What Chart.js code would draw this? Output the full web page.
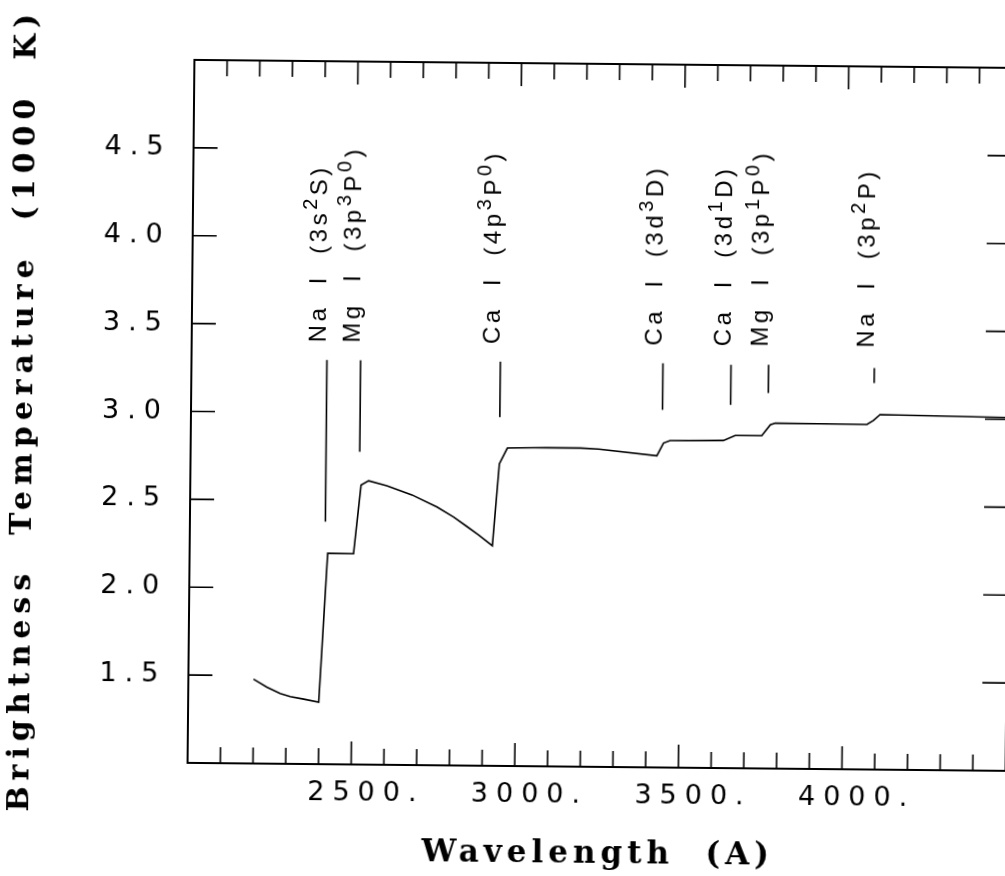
<!DOCTYPE html>
<html>
<head>
<meta charset="utf-8">
<title>Brightness Temperature vs Wavelength</title>
<script src="https://cdn.jsdelivr.net/npm/chart.js@4.4.1/dist/chart.umd.min.js"></script>
<style>
  html, body { margin: 0; padding: 0; background: #fff; overflow: hidden; }
  /* the original is a slightly skewed scan */
  #wrap { width: 1030px; height: 876px; transform: rotate(0.56deg); transform-origin: 0 0; }
</style>
</head>
<body>
<div id="wrap"><canvas id="chart" width="1030" height="876"></canvas></div>
<script>
// curve: wavelength (A) vs brightness temperature (1000 K)
const wavelength = [2199, 2240, 2281, 2312, 2353, 2399, 2422, 2501, 2522, 2545, 2601, 2678,
  2755, 2806, 2847, 2882, 2925, 2944, 2968, 3089, 3191, 3247, 3425, 3445, 3465, 3628, 3664,
  3745, 3771, 3786, 4066, 4086, 4106, 4500];
const temperature = [1.48, 1.435, 1.40, 1.383, 1.369, 1.353, 2.20, 2.199, 2.59, 2.615, 2.587, 2.537,
  2.469, 2.413, 2.36, 2.314, 2.252, 2.719, 2.809, 2.814, 2.813, 2.808, 2.773, 2.846, 2.861, 2.864, 2.893,
  2.894, 2.956, 2.966, 2.963, 2.986, 3.02, 3.01];

// absorption edges marked above the curve
const edgeWavelength = [2414, 2517, 2944, 3441, 3649, 3764, 4087];
const edgeTop = [3.30, 3.30, 3.30, 3.30, 3.295, 3.297, 3.284];
const edgeBottom = [2.38, 2.78, 2.985, 3.035, 3.067, 3.136, 3.199];
const edgeElement = ['Na', 'Mg', 'Ca', 'Ca', 'Ca', 'Mg', 'Na'];
const edgeTerm = ['3s^2S', '3p^3P^0', '4p^3P^0', '3d^3D', '3d^1D', '3p^1P^0', '3p^2P']; // ^ = next char is superscript

const xLabels = [2500, 3000, 3500, 4000];
const yLabels = [1.5, 2.0, 2.5, 3.0, 3.5, 4.0, 4.5];

const labelStartT = 3.40;

function splitTerm(term) {
  const parts = [];
  term.split('^').forEach((chunk, i) => {
    if (i === 0) { parts.push({ text: chunk, sup: false }); return; }
    parts.push({ text: chunk[0], sup: true });
    if (chunk.length > 1) parts.push({ text: chunk.slice(1), sup: false });
  });
  return parts;
}

const frameTicks = {
  id: 'frameTicks',
  beforeDraw(chart) {
    chart.ctx.letterSpacing = '8px';
  },
  afterDraw(chart) {
    const { ctx, chartArea: a, scales } = chart;
    ctx.save();
    ctx.letterSpacing = '0px';
    ctx.strokeStyle = '#000';
    ctx.lineWidth = 1.6;
    ctx.beginPath();
    scales.x.ticks.forEach(t => {
      if (t.value <= scales.x.min || t.value >= scales.x.max) return;
      const px = scales.x.getPixelForValue(t.value);
      const len = t.value % 500 === 0 ? 23 : 16;
      ctx.moveTo(px, a.bottom); ctx.lineTo(px, a.bottom - len);
      ctx.moveTo(px, a.top); ctx.lineTo(px, a.top + len);
    });
    scales.y.ticks.forEach(t => {
      if (t.value <= scales.y.min || t.value >= scales.y.max) return;
      const py = scales.y.getPixelForValue(t.value);
      ctx.moveTo(a.left, py); ctx.lineTo(a.left + 24, py);
      ctx.moveTo(a.right, py); ctx.lineTo(a.right - 24, py);
    });
    ctx.stroke();

    // axis titles
    ctx.fillStyle = '#000';
    ctx.textAlign = 'center';
    ctx.textBaseline = 'middle';
    ctx.font = 'bold 31px "DejaVu Serif"';
    ctx.letterSpacing = '5px';
    ctx.fillText('Wavelength  (A)', (a.left + a.right) / 2 + 2, a.bottom + 88);
    ctx.save();
    ctx.translate(28, (a.top + a.bottom) / 2);
    ctx.rotate(-Math.PI / 2);
    ctx.font = 'bold 30px "DejaVu Serif"';
    ctx.letterSpacing = '6px';
    ctx.fillText('Brightness  Temperature  (1000  K)', 0, 0);
    ctx.restore();
    ctx.restore();
  }
};

const edgeLabels = {
  id: 'edgeLabels',
  afterDatasetsDraw(chart) {
    const { ctx, scales: { x, y } } = chart;
    ctx.save();
    ctx.strokeStyle = '#000';
    ctx.fillStyle = '#000';
    ctx.lineWidth = 1.6;
    ctx.letterSpacing = '3.5px';
    ctx.textBaseline = 'alphabetic';
    ctx.textAlign = 'left';
    edgeWavelength.forEach((w, i) => {
      const px = x.getPixelForValue(w);
      ctx.beginPath();
      ctx.moveTo(px, y.getPixelForValue(edgeTop[i]));
      ctx.lineTo(px, y.getPixelForValue(edgeBottom[i]));
      ctx.stroke();

      const parts = [{ text: edgeElement[i] + '  I  (', sup: false }]
        .concat(splitTerm(edgeTerm[i]), [{ text: ')', sup: false }]);
      ctx.save();
      ctx.translate(px - 1, y.getPixelForValue(labelStartT));
      ctx.rotate(-Math.PI / 2);
      let cx = 0;
      parts.forEach(p => {
        ctx.font = (p.sup ? 20 : 24) + 'px "Liberation Sans"';
        ctx.fillText(p.text, cx, p.sup ? -10 : 0);
        cx += ctx.measureText(p.text).width;
      });
      ctx.restore();
    });
    ctx.restore();
  }
};

const tickFont = { family: 'DejaVu Sans', size: 27 };

new Chart(document.getElementById('chart'), {
  type: 'line',
  data: {
    datasets: [{
      data: wavelength.map((w, i) => ({ x: w, y: temperature[i] })),
      borderColor: '#000',
      borderWidth: 1.6,
      pointRadius: 0,
      tension: 0,
      fill: false
    }]
  },
  options: {
    responsive: false,
    animation: false,
    events: [],
    layout: { padding: { left: 0, top: 58, right: 17, bottom: 0 } },
    plugins: { legend: { display: false }, tooltip: { enabled: false } },
    scales: {
      x: {
        type: 'linear', position: 'bottom', min: 2000, max: 4500,
        grid: { display: false, drawTicks: false },
        border: { display: true, color: '#000', width: 2 },
        ticks: {
          stepSize: 100, autoSkip: false, maxRotation: 0, padding: 13, labelOffset: 15,
          color: '#000', font: tickFont,
          callback: v => xLabels.includes(v) ? v + '.' : ''
        },
        afterFit: s => { s.height = 115; }
      },
      x2: {
        type: 'linear', position: 'top', min: 2000, max: 4500,
        grid: { display: false, drawTicks: false },
        border: { display: true, color: '#000', width: 2 },
        ticks: { display: false },
        afterFit: s => { s.height = 0; }
      },
      y: {
        type: 'linear', position: 'left', min: 1, max: 5,
        grid: { display: false, drawTicks: false },
        border: { display: true, color: '#000', width: 2 },
        ticks: {
          stepSize: 0.5, autoSkip: false, padding: 22, color: '#000', font: tickFont,
          callback: v => yLabels.includes(v) ? v.toFixed(1) : ''
        },
        afterFit: s => { s.width = 195; }
      },
      y2: {
        type: 'linear', position: 'right', min: 1, max: 5,
        grid: { display: false, drawTicks: false },
        border: { display: true, color: '#000', width: 2 },
        ticks: { display: false },
        afterFit: s => { s.width = 0; }
      }
    }
  },
  plugins: [frameTicks, edgeLabels]
});
</script>
</body>
</html>
